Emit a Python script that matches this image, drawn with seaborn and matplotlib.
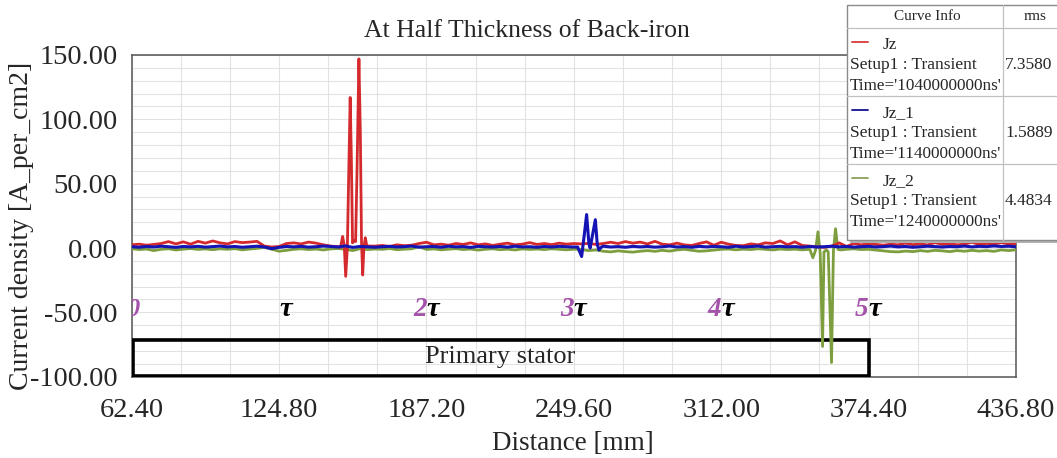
import numpy as np
import pandas as pd
import matplotlib
matplotlib.use("Agg")
import matplotlib.pyplot as plt
import seaborn as sns
from matplotlib.patches import Rectangle
from matplotlib.lines import Line2D
from matplotlib.ticker import MultipleLocator, FixedLocator, FuncFormatter

# ---------------- data ----------------
dist_step = 3.12
dist_start = 62.4
n_base = 121

red_base = [2.5, 3.0, 2.2, 2.8,
            3.5, 5.0, 3.2, 4.8, 3.0, 5.2, 3.8, 5.5, 4.0, 3.2, 5.0, 4.2,
            4.6, 5.2, 1.5, 0.8, 1.2,
            3.5, 4.0, 3.2, 4.6, 3.8, 2.5, 1.5,
            1.0, 1.0, 1.0, 1.0, 1.0,
            1.5, 2.0, 1.2, 2.5, 1.8, 2.2, 3.5, 4.5,
            2.5, 3.0, 2.2, 3.5, 2.8, 4.0, 2.5, 3.2, 2.0, 3.0, 3.8, 2.5, 3.0, 4.2, 2.8, 3.5, 2.6, 3.8, 3.0, 3.5,
            3.2, 3.6, 2.8, 3.5,
            4.5, 3.5, 5.0, 3.8, 4.6, 3.2, 5.2, 3.0, 2.5, 3.8, 2.4,
            2.0, 3.5, 4.8, 2.2, 4.5, 3.0, 2.0, 1.8, 3.2, 2.5, 4.0, 3.5, 5.5, 2.5, 4.8,
            2.0, 1.5, 1.0, 0.5, 1.5, 4.0, 1.2, 3.5,
            2.5, 3.5, 2.8, 2.2, 3.0, 2.5, 3.8, 2.6, 3.2, 2.4, 4.2, 2.8, 3.5, 2.5, 3.0, 4.5, 2.8, 3.6, 3.0, 4.2, 3.2, 3.0]

blue_base = [1.0, 0.6, 1.2, 0.8, 1.4, 1.0, 0.5, 1.2, 0.9, 1.3,
             0.7, 1.1, 1.5, 0.9, 1.2, 0.6, 1.0, 1.4, 0.8, -0.5,
             0.5, 1.2, 0.9, 1.3, 0.7, 1.0, 1.5, 1.2, 0.8, 1.6,
             0.5, 1.2, 0.9, 0.6, 1.0, 1.3, 0.8, 1.1, 1.5, 0.7,
             1.0, 1.2, 0.6, 1.4, 0.9, 1.1, 0.5, 1.3, 1.0, 0.8,
             1.2, 0.7, 1.4, 0.9, 1.0, 0.6, 1.2, 0.8, 1.3, 1.0,
             0.8, 1.2, 0.5, 1.0, 1.4, 0.8, 1.1, 0.6, 1.3, 0.9,
             1.2, 0.7, 1.0, 1.5, 0.8, 1.1, 0.6, 1.3, 0.9, 1.2,
             1.0, 0.6, 1.4, 0.8, 1.1, 1.5, 0.7, 1.0, 1.3, 0.9,
             1.1, 0.6, 1.2, 0.8, 1.0, 1.4, 0.9, 1.2, 0.7, 1.0,
             1.3, 0.8, 1.1, 1.5, 0.9, 1.2, 0.6, 1.0, 1.4, 1.1,
             0.8, 1.2, 1.0, 1.5, 0.9, 1.3, 1.1, 1.6, 1.2, 1.4, 1.0]

green_base = [-0.5, -1.2, -0.8, -2.0, -1.0, -0.6, -1.5, -0.9, -0.4, -1.1,
              -0.7, -1.3, -0.6, -1.0, -0.5, -1.4, -0.8, -0.3, 0.5, -0.9,
              -2.5, -1.8, -1.0, -0.6, -1.2, -0.8, -1.5, -0.7, -0.4, -1.0,
              -2.0, -0.5, -1.2, -0.8, -1.0, -0.4, -1.3, -0.9, -0.6, 1.0,
              -1.1, -0.7, -1.4, -0.9, -0.5, -1.2, -0.8, -1.6, -1.0, -0.6,
              -1.3, -0.9, -1.5, -0.7, -1.1, -0.8, -1.2, -0.6, -1.0, -1.4,
              -0.9, -1.2, -2.0, -1.5, -2.5, -3.0, -2.2, -2.8, -3.2, -2.5,
              -2.0, -2.6, -1.8, -2.4, -1.5, -1.0, -1.8, -2.5, -2.2, -1.6,
              -1.0, -0.8, -1.4, -0.9, -1.2, -0.6, -1.0, -1.5, -0.8, -1.2,
              -0.9, -1.4, -1.0, -0.7, -1.1, -0.8, -1.3, -1.0, -0.6, -1.2,
              -1.0, -1.6, -2.2, -2.8, -3.0, -2.4, -2.8, -2.0, -2.6, -1.8,
              -2.2, -2.8, -2.0, -2.5, -1.8, -2.4, -2.0, -2.6, -1.5, -2.0, -1.4]

red_spike_x = [149.8, 150.8, 151.7, 152.4, 153.0, 153.7, 154.2, 154.9, 155.4, 155.9, 156.5,
               157.2, 157.8, 158.6, 159.2, 159.7, 160.2, 160.7, 161.3, 161.9, 162.6]
red_spike_y = [1.0, 0.5, 9.0, 2.0, -22.0, 0.0, 50.0, 117.0, 70.0, 4.0, 6.0,
               5.0, 60.0, 147.0, 90.0, 5.0, -21.0, 0.0, 8.0, 2.0, 1.5]

blue_spike_x = [251.2, 252.9, 254.0, 255.0, 256.0, 256.5, 257.5, 258.7, 259.5, 260.2, 261.3]
blue_spike_y = [0.8, -6.6, 10.0, 26.0, 3.0, 0.0, 10.0, 22.0, 3.0, -1.5, 0.8]

green_spike_x = [349.5, 350.8, 351.9, 352.96, 353.9, 354.9, 355.5, 356.5, 357.3, 358.7,
                 359.5, 360.4, 361.4, 362.5]
green_spike_y = [-1.0, -7.6, -2.0, 12.6, -4.0, -76.5, -3.0, -1.5, -3.0, -89.0,
                 -2.0, 15.0, -1.0, -1.5]

curve_names = ["Jz", "Jz_1", "Jz_2"]
curve_times = ["1040000000ns", "1140000000ns", "1240000000ns"]
curve_rms = ["7.3580", "1.5889", "4.4834"]
curve_colors = ["#d42a2e", "#1414b4", "#7c9e3e"]
legend_colors = ["#dc4a4a", "#22229a", "#95a868"]

x_ticks = [62.40, 124.80, 187.20, 249.60, 312.00, 374.40, 436.80]
y_ticks = [-100, -50, 0, 50, 100, 150]
tau_labels = ["0", "", "2", "3", "4", "5"]
tau_pos = [62.4, 124.8, 187.2, 249.6, 312.0, 374.4]

base_x = np.round(dist_start + dist_step * np.arange(n_base), 2)


def build(base_y, sx, sy):
    bx = np.asarray(base_x)
    by = np.asarray(base_y, dtype=float)
    keep = (bx < min(sx)) | (bx > max(sx))
    xs = np.concatenate([bx[keep], sx])
    ys = np.concatenate([by[keep], sy])
    order = np.argsort(xs)
    return pd.DataFrame({"Distance": xs[order], "J": ys[order]})


df_red = build(red_base, red_spike_x, red_spike_y)
df_blue = build(blue_base, blue_spike_x, blue_spike_y)
df_green = build(green_base, green_spike_x, green_spike_y)

# ---------------- style ----------------
sns.set_style("white")
plt.rcParams["font.family"] = ["Liberation Serif", "DejaVu Serif"]

W, H = 1057, 458
fig = plt.figure(figsize=(W / 100, H / 100), dpi=100)
fig.patch.set_facecolor("white")

def fx(px):
    return px / W

def fy(py):
    return 1 - py / H

ax_l, ax_r, ax_t, ax_b = 131.7, 1016.0, 55.0, 376.7
ax = fig.add_axes([fx(ax_l), fy(ax_b), fx(ax_r) - fx(ax_l), fy(ax_t) - fy(ax_b)])

sns.lineplot(data=df_green, x="Distance", y="J", ax=ax, color=curve_colors[2], lw=2.0,
             estimator=None, zorder=4)
sns.lineplot(data=df_red, x="Distance", y="J", ax=ax, color=curve_colors[0], lw=2.0,
             estimator=None, zorder=5)
sns.lineplot(data=df_blue, x="Distance", y="J", ax=ax, color=curve_colors[1], lw=2.2,
             estimator=None, zorder=6)

ax.set_xlim(62.4, 436.8)
ax.set_ylim(-100, 150)
ax.xaxis.set_major_locator(FixedLocator(x_ticks))
ax.xaxis.set_minor_locator(MultipleLocator(20.8))
ax.yaxis.set_major_locator(FixedLocator(y_ticks))
ax.yaxis.set_minor_locator(MultipleLocator(10))
ax.xaxis.set_major_formatter(FuncFormatter(lambda v, p: f"{v:.2f}"))
ax.yaxis.set_major_formatter(FuncFormatter(lambda v, p: f"{v:.2f}"))

ax.grid(True, which="both", color="#e2e2e2", lw=0.8, zorder=0)
ax.set_axisbelow(True)
ax.tick_params(axis="both", which="major", direction="out", length=6, width=1,
               color="#555555", labelsize=20.5, pad=4)
ax.tick_params(axis="both", which="minor", direction="out", length=3.5, width=0.9,
               color="#555555")
ax.tick_params(axis="x", which="major", pad=9)
for sp in ax.spines.values():
    sp.set_color("#555555")
    sp.set_linewidth(1.1)
    sp.set_visible(True)

ax.set_xlabel("Distance [mm]", fontsize=19.5)
ax.set_ylabel("Current density [A_per_cm2]", fontsize=20)
ax.xaxis.set_label_coords(0.499, -0.168)
ax.yaxis.set_label_coords(-0.111, 0.47)

ax.set_title("At Half Thickness of Back-iron", fontsize=18.5, pad=13, x=0.447)

# pole pitch labels
purple = "#a452aa"
for lab, pos in zip(tau_labels, tau_pos):
    if lab == "0":
        ax.text(pos + 0.5, -48, "0", color=purple, fontsize=19, fontweight="bold",
                style="italic", ha="center", va="center", clip_on=True, zorder=7)
    elif lab == "":
        ax.text(pos, -48, "τ", color="black", fontsize=20.5, fontweight="bold",
                style="italic", ha="left", va="center", zorder=7)
    else:
        ax.text(pos, -48, lab, color=purple, fontsize=19.5, fontweight="bold",
                style="italic", ha="right", va="center", zorder=7)
        ax.text(pos, -48, "τ", color="black", fontsize=20.5, fontweight="bold",
                style="italic", ha="left", va="center", zorder=7)

# primary stator box
ax.add_patch(Rectangle((62.8, -99.3), 374.4 - 62.8, 99.3 - 71.3, fill=False,
                       ec="black", lw=2.6, zorder=3))
ax.text(218.4, -84.5, "Primary stator", fontsize=19, ha="center", va="center", zorder=7)

# ---------------- legend table ----------------
lx0, lx1, ly0, ly1 = 847, 1062, 5, 240
col_sep = 1003
row_lines = [28, 96, 164]
fig.add_artist(Rectangle((fx(lx0 + 3), fy(ly1 + 3)), fx(lx1) - fx(lx0), fy(ly0) - fy(ly1),
                         transform=fig.transFigure, fc="#b0b0b0", ec="none", zorder=10))
fig.add_artist(Rectangle((fx(lx0), fy(ly1)), fx(lx1) - fx(lx0), fy(ly0) - fy(ly1),
                         transform=fig.transFigure, fc="white", ec="#8a8a8a", lw=1.0, zorder=11))
for ry in row_lines:
    fig.add_artist(Line2D([fx(lx0), fx(lx1)], [fy(ry), fy(ry)], transform=fig.transFigure,
                          color="#c0c0c0", lw=0.9, zorder=12))
fig.add_artist(Line2D([fx(col_sep), fx(col_sep)], [fy(ly0), fy(ly1)], transform=fig.transFigure,
                      color="#c0c0c0", lw=0.9, zorder=12))
fig.text(fx(927), fy(17), "Curve Info", fontsize=11, ha="center", va="center", zorder=13)
fig.text(fx(1035), fy(17), "rms", fontsize=11, ha="center", va="center", zorder=13)

row_tops = [28, 96, 164]
for i, (nm, tm, rms) in enumerate(zip(curve_names, curve_times, curve_rms)):
    t = row_tops[i]
    fig.add_artist(Line2D([fx(852), fx(868)], [fy(t + 14), fy(t + 14)], transform=fig.transFigure,
                          color=legend_colors[i], lw=1.4, zorder=13))
    fig.text(fx(883), fy(t + 17), nm, fontsize=12.5, ha="left", va="center", zorder=13)
    fig.text(fx(850), fy(t + 37), "Setup1 : Transient", fontsize=12.5, ha="left", va="center", zorder=13)
    fig.text(fx(850), fy(t + 58), f"Time='{tm}'", fontsize=12.3, ha="left", va="center", zorder=13)
    fig.text(fx(1005), fy(t + 37), rms, fontsize=12.5, ha="left", va="center", zorder=13)

fig.savefig("out.png", dpi=100)
